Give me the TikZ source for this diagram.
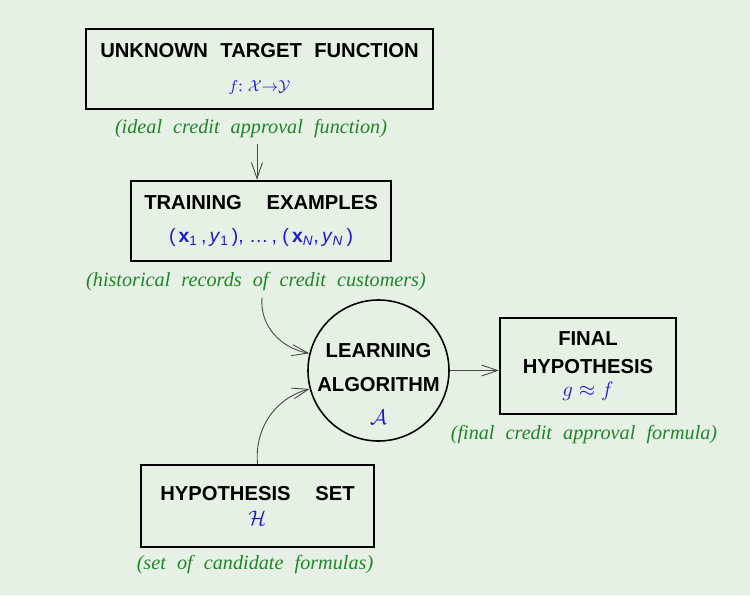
\documentclass[tikz,border=0pt]{standalone}
\usepackage{amsmath,fontspec}
\setmainfont{Liberation Serif}
\setsansfont{Liberation Sans}
\newfontfamily\boxfont{Liberation Sans}[WordSpace=2.2]
\newfontfamily\notefont{Liberation Serif}[WordSpace=2.2]
\usetikzlibrary{positioning,arrows.meta}

\definecolor{bgcol}{RGB}{230,240,228}
\definecolor{notegreen}{RGB}{30,135,40}
\definecolor{mathblue}{RGB}{25,25,215}
\definecolor{linegray}{RGB}{70,70,70}

\tikzset{
  box/.style={draw, line width=1.3pt, align=center, font=\boxfont\bfseries\fontsize{11.5}{13}\selectfont},
  note/.style={text=notegreen, font=\notefont\itshape\fontsize{11.5}{13}\selectfont},
  flow/.style={-{Straight Barb[length=3.2mm,width=2.2mm]}, linegray, line width=0.5pt},
}
\newcommand{\blue}[1]{\textcolor{mathblue}{#1}}

\begin{document}
\begin{tikzpicture}[x=0.02cm, y=-0.02cm]
    % Background
    \fill[bgcol] (0,0) rectangle (750,595);
    \useasboundingbox (0,0) rectangle (750,595);

    % Boxes
    \node[box, minimum width=347*0.02cm, minimum height=80*0.02cm] (target) at (259.5,69)
        {UNKNOWN TARGET FUNCTION\\[6pt]\blue{\normalfont\small$f$: $\mathcal{X}{\to}\mathcal{Y}$}};
    \node[box, minimum width=260*0.02cm, minimum height=80*0.02cm] (train) at (261,221)
        {TRAINING\ \ EXAMPLES\\[6pt]\blue{\sffamily\mdseries\fontsize{11}{13}\selectfont(\,\textbf{x}\textsubscript{1}\,,\,\textit{y}\textsubscript{1}\,), \dots\,, (\,\textbf{x}\textsubscript{\textit{N}},\,\textit{y}\textsubscript{\textit{N}}\,)}};
    \node[box, minimum width=176*0.02cm, minimum height=96*0.02cm] (final) at (588,366)
        {FINAL\\[3pt]HYPOTHESIS\\[0pt]\blue{$g \approx f$}};
    \node[box, minimum width=233*0.02cm, minimum height=82*0.02cm] (hset) at (257.5,506)
        {HYPOTHESIS\ \ SET\\[1pt]\blue{$\mathcal{H}$}};

    % Learning algorithm
    \node[draw, circle, line width=0.9pt, minimum size=141*0.02cm] (algo) at (378.5,370.5) {};
    \node[box, draw=none] (algotext) at (378.5,384)
        {LEARNING\\[6pt]ALGORITHM\\[6pt]\blue{$\mathcal{A}$}};

    % Notes
    \node[note] (targetnote) at (251,129) {(ideal credit approval function)};
    \node[note] (trainnote) at (256,282) {(historical records of credit customers)};
    \node[note] (finalnote) at (584,435) {(final credit approval formula)};
    \node[note] (hsetnote) at (255,565) {(set of candidate formulas)};

    % Connectors
    \draw[flow] (targetnote.south -| 257,0) -- (train.north -| 257,0);
    \draw[flow] (trainnote.south -| 262,0) to[out=-95, in=170] (algo.166);
    \draw[flow] (hset.north) to[out=95, in=195] (algo.195);
    \draw[flow] (algo.east) -- (final.west |- algo.east);
\end{tikzpicture}
\end{document}
